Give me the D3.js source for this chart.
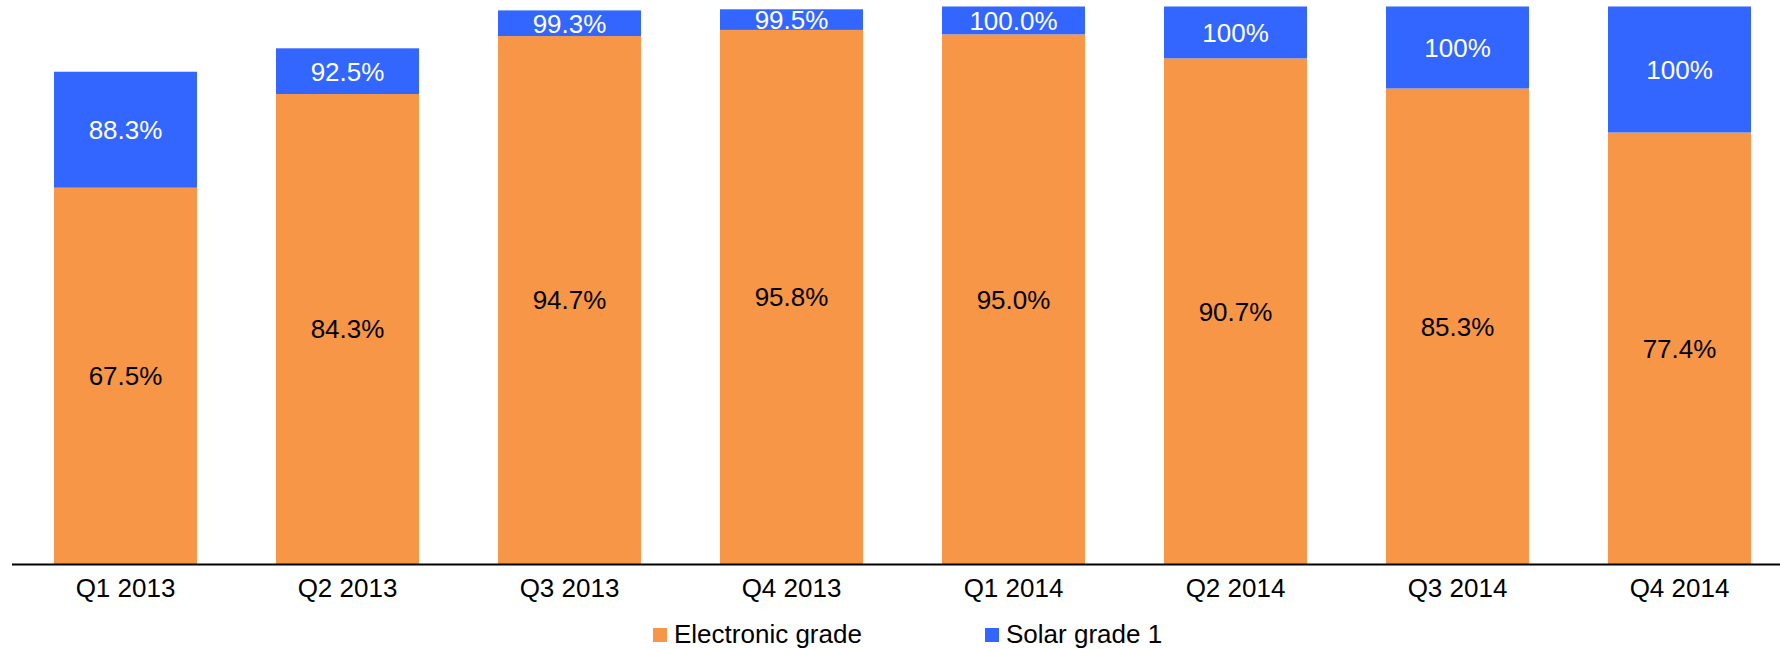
<!DOCTYPE html>
<html>
<head>
<meta charset="utf-8">
<script src="https://cdn.jsdelivr.net/npm/d3@7"></script>
<style>
  body { margin: 0; background: #fff; }
  svg text { font-family: "Liberation Sans", Arial, sans-serif; }
</style>
</head>
<body>
<div class="chart"></div>
<script>
// quarters on the x axis
var quarters = ["Q1 2013", "Q2 2013", "Q3 2013", "Q4 2013", "Q1 2014", "Q2 2014", "Q3 2014", "Q4 2014"];
// electronic grade share (bottom segment)
var electronic = [67.5, 84.3, 94.7, 95.8, 95.0, 90.7, 85.3, 77.4];
// cumulative total incl. solar grade 1 (top of bar)
var totals = [88.3, 92.5, 99.3, 99.5, 100.0, 100, 100, 100];
var totalLabels = ["88.3%", "92.5%", "99.3%", "99.5%", "100.0%", "100%", "100%", "100%"];
var seriesNames = ["Electronic grade", "Solar grade 1"];
var colors = ["#F79646", "#3366FF"];

var width = 1780, height = 649;

var svg = d3.select(".chart").append("svg")
  .attr("width", width)
  .attr("height", height);

var x = d3.scaleBand()
  .domain(quarters)
  .range([14.5, 1790.5])
  .paddingInner(0.356)
  .paddingOuter(0.178);

var y = d3.scaleLinear()
  .domain([0, 100])
  .range([564, 6.5]);

var rows = quarters.map(function(q, i) {
  return { q: q, elec: electronic[i], total: totals[i], label: totalLabels[i] };
});

// orange part
svg.selectAll(".elec")
  .data(rows)
  .enter().append("rect")
  .attr("class", "elec")
  .attr("x", function(d) { return x(d.q); })
  .attr("width", x.bandwidth())
  .attr("y", function(d) { return y(d.elec); })
  .attr("height", function(d) { return y(0) - y(d.elec); })
  .attr("fill", colors[0]);

// blue part on top
svg.selectAll(".solar")
  .data(rows)
  .enter().append("rect")
  .attr("class", "solar")
  .attr("x", function(d) { return x(d.q); })
  .attr("width", x.bandwidth())
  .attr("y", function(d) { return y(d.total); })
  .attr("height", function(d) { return y(d.elec) - y(d.total); })
  .attr("fill", colors[1]);

svg.selectAll(".elecLabel")
  .data(rows)
  .enter().append("text")
  .attr("x", function(d) { return x(d.q) + x.bandwidth() / 2; })
  .attr("y", function(d) { return (y(d.elec) + y(0)) / 2; })
  .attr("dy", "0.36em")
  .attr("text-anchor", "middle")
  .style("font-size", "26px")
  .attr("fill", "#000")
  .text(function(d) { return d.elec.toFixed(1) + "%"; });

svg.selectAll(".totLabel")
  .data(rows)
  .enter().append("text")
  .attr("x", function(d) { return x(d.q) + x.bandwidth() / 2; })
  .attr("y", function(d) { return (y(d.elec) + y(d.total)) / 2; })
  .attr("dy", "0.36em")
  .attr("text-anchor", "middle")
  .style("font-size", "26px")
  .attr("fill", "#fff")
  .text(function(d) { return d.label; });

// baseline axis
svg.append("line")
  .attr("x1", 12).attr("x2", width)
  .attr("y1", y(0) + 0.5).attr("y2", y(0) + 0.5)
  .attr("stroke", "#000")
  .attr("stroke-width", 2);

svg.selectAll(".cat")
  .data(quarters)
  .enter().append("text")
  .attr("x", function(d) { return x(d) + x.bandwidth() / 2; })
  .attr("y", 597)
  .attr("text-anchor", "middle")
  .style("font-size", "26px")
  .attr("fill", "#000")
  .text(function(d) { return d; });

// legend
var legendX = [653, 985];
var legend = svg.selectAll(".legend")
  .data(seriesNames)
  .enter().append("g")
  .attr("transform", function(d, i) { return "translate(" + legendX[i] + ",628)"; });
legend.append("rect")
  .attr("width", 14).attr("height", 14)
  .attr("fill", function(d, i) { return colors[i]; });
legend.append("text")
  .attr("x", 21)
  .attr("y", 15)
  .style("font-size", "26px")
  .attr("fill", "#000")
  .text(function(d) { return d; });
</script>
</body>
</html>
